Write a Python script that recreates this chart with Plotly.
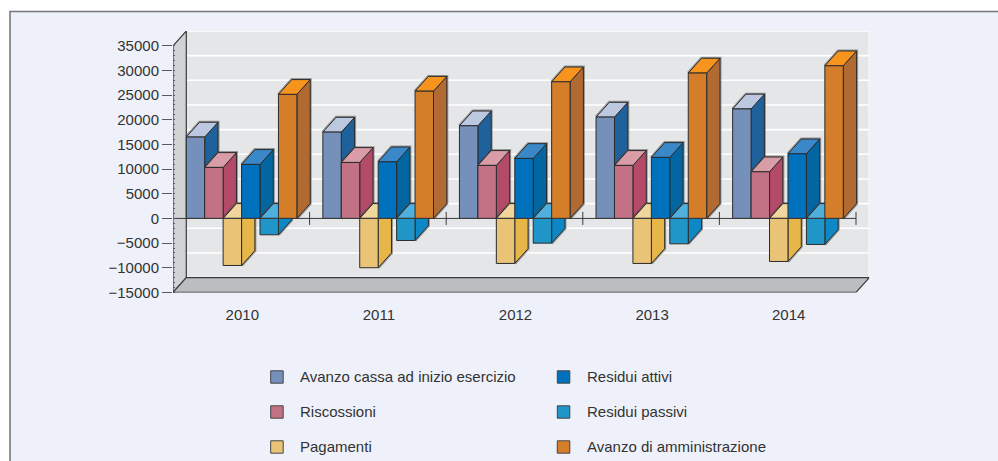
import plotly.graph_objects as go

years = ["2010", "2011", "2012", "2013", "2014"]
names = ["Avanzo cassa ad inizio esercizio", "Riscossioni", "Pagamenti",
         "Residui attivi", "Residui passivi", "Avanzo di amministrazione"]
avanzo_cassa = [16500, 17500, 18780, 20540, 22200]
riscossioni = [10340, 11350, 10750, 10750, 9450]
pagamenti = [-9540, -10000, -9130, -9130, -8730]
residui_attivi = [10950, 11480, 12160, 12370, 13100]
residui_passivi = [-3320, -4470, -5010, -5150, -5280]
avanzo_amm = [25150, 25800, 27700, 29470, 30950]
series = [avanzo_cassa, riscossioni, pagamenti, residui_attivi, residui_passivi, avanzo_amm]
front_colors = ["#7590bb", "#c37285", "#e9c476", "#0071bc", "#2096c8", "#d47e2a"]
side_colors = ["#1f629b", "#b34a68", "#e6b748", "#0466a0", "#0e88c4", "#b06a32"]
top_colors = ["#bcc8e0", "#d99da7", "#f0d59c", "#3a88c8", "#4fb0de", "#f7941e"]
y_ticks = list(range(-15000, 35001, 5000))

W, H = 998, 461
EDGE = "#2b2b2b"
DX, DY = 0.0974, 3000       # depth of the pseudo-3D projection, in data units
Y0, Y1 = -15000, 38000
XMAX = 5 + DX
GAP = 0.19
BW = (1 - GAP) / 6
XSHIFT = 0.502


def poly(points_list):
    xs, ys = [], []
    for pts in points_list:
        for p in pts + [pts[0]]:
            xs.append(p[0])
            ys.append(p[1])
        xs.append(None)
        ys.append(None)
    return xs, ys


def face(points_list, fill, lc=EDGE, lw=1):
    xs, ys = poly(points_list)
    return go.Scatter(x=xs, y=ys, mode="lines", fill="toself", fillcolor=fill,
                      line=dict(color=lc, width=lw), hoverinfo="skip", showlegend=False,
                      xaxis="x", yaxis="y")


fig = go.Figure()

# back wall, grid, left wall, floor
fig.add_trace(face([[(DX, Y0 + DY), (XMAX, Y0 + DY), (XMAX, Y1), (DX, Y1)]], "#e5e6e8", "#e5e6e8", 0))
gx, gy = [], []
for t in y_ticks:
    gx += [DX, XMAX, None]
    gy += [t + DY, t + DY, None]
fig.add_trace(go.Scatter(x=[XMAX, XMAX], y=[Y0 + DY, Y1], mode="lines", line=dict(color="#ffffff", width=1.5),
                         hoverinfo="skip", showlegend=False))
fig.add_trace(go.Scatter(x=gx, y=gy, mode="lines", line=dict(color="#ffffff", width=1.6),
                         hoverinfo="skip", showlegend=False))
fig.add_trace(face([[(0, Y0), (0, 35000), (DX, Y1), (DX, Y0 + DY)]], "#d0d2d4", "#3a3a3a", 1.2))
fig.add_trace(face([[(0, Y0), (5, Y0), (XMAX, Y0 + DY), (DX, Y0 + DY)]], "#bcbdc0", "#3a3a3a", 1.2))

# side and top faces, drawn from the values
for i, vals in enumerate(series):
    sides, tops, halo_x, halo_y = [], [], [], []
    for k, v in enumerate(vals):
        left = k + XSHIFT - (1 - GAP) / 2 + i * BW
        right = left + BW
        hi = max(v, 0)
        lo = min(v, 0)
        sides.append([(right, hi), (right + DX, hi + DY), (right + DX, lo + DY), (right, lo)])
        tops.append([(left, hi), (right, hi), (right + DX, hi + DY), (left + DX, hi + DY)])
        halo_x += [left, left + DX, right + DX, right + DX, right, None]
        halo_y += [hi, hi + DY, hi + DY, lo + DY, lo, None]
    fig.add_trace(go.Scatter(x=halo_x, y=halo_y, mode="lines", line=dict(color="rgba(70,70,70,0.5)", width=3),
                             hoverinfo="skip", showlegend=False))
    fig.add_trace(face(sides, side_colors[i]))
    fig.add_trace(face(tops, top_colors[i]))

# front faces: real bars on an overlaying pair of axes
positions = [k + XSHIFT for k in range(len(years))]
for i, vals in enumerate(series):
    fig.add_trace(go.Bar(x=positions, y=vals, name=names[i], xaxis="x2", yaxis="y2",
                         marker=dict(color=front_colors[i], line=dict(color=EDGE, width=1)),
                         showlegend=False, customdata=years,
                         hovertemplate="%{customdata}: %{y}<extra>" + names[i] + "</extra>"))

# zero line with ticks at the category boundaries
zx, zy = [0, 5, None], [0, 0, None]
for k in range(1, len(years) + 1):
    zx += [k, k, None]
    zy += [-1320, 1320, None]
fig.add_trace(go.Scatter(x=zx, y=zy, mode="lines", line=dict(color="#3a3a3a", width=1),
                         xaxis="x2", yaxis="y2", hoverinfo="skip", showlegend=False))

dom_x = [173 / W, 869.3 / W]
dom_y = [1 - 292.4 / H, 1 - 31 / H]
TXT = "#333333"
FONT = "Liberation Sans, Arial, sans-serif"

shapes = [dict(type="rect", xref="paper", yref="paper", x0=10 / W, x1=1.01, y0=-0.01, y1=1 - 11.5 / H,
               fillcolor="#eef1f9", line=dict(color="#77787b", width=1.6), layer="below")]
annotations = []
legend_x = [(270.7, 298), (557.3, 584.7)]
legend_y = [377, 412, 447]
for i, name in enumerate(names):
    sx, tx = legend_x[i // 3]
    cy = legend_y[i % 3]
    shapes.append(dict(type="rect", xref="paper", yref="paper", x0=sx / W, x1=(sx + 12.5) / W,
                       y0=1 - (cy + 6.2) / H, y1=1 - (cy - 6.2) / H, fillcolor=front_colors[i],
                       line=dict(color="#444444", width=1)))
    annotations.append(dict(text=name, xref="paper", yref="paper", x=tx / W, y=1 - (cy - 1) / H,
                            xanchor="left", yanchor="middle", showarrow=False,
                            font=dict(family=FONT, size=15, color=TXT)))

fig.update_layout(
    width=W, height=H, margin=dict(l=0, r=0, t=0, b=0, autoexpand=False),
    paper_bgcolor="#ffffff", plot_bgcolor="rgba(0,0,0,0)",
    barmode="group", bargap=GAP, bargroupgap=0, showlegend=False,
    font=dict(family=FONT, size=15, color=TXT),
    shapes=shapes, annotations=annotations,
    xaxis=dict(domain=dom_x, range=[0, XMAX], tickvals=[k + 0.5 for k in range(len(years))], ticktext=years,
               ticks="outside", ticklen=9, tickcolor="rgba(0,0,0,0)", showgrid=False, zeroline=False,
               showline=False, tickfont=dict(size=15, color=TXT), ticklabelshift=1, anchor="y"),
    yaxis=dict(domain=dom_y, range=[Y0, Y1], tickvals=y_ticks, ticks="outside", ticklen=10, tickwidth=1.4,
               tickcolor="#58595b", showgrid=False, zeroline=False, showline=False, tickformat="d",
               tickfont=dict(size=15, color=TXT), layer="above traces", anchor="x",
               minor=dict(tickvals=list(range(-15000, 35001, 1000)), ticks="inside", ticklen=2,
                          tickcolor="#58595b", tickwidth=1, showgrid=False)),
    xaxis2=dict(domain=dom_x, range=[0, XMAX], overlaying="x", visible=False, anchor="y2"),
    yaxis2=dict(domain=dom_y, range=[Y0, Y1], overlaying="y", visible=False, anchor="x2"),
)

fig.write_html("out.html", config=dict(displayModeBar=False),
               post_script="document.body.style.margin='0';document.body.style.overflow='hidden';")
